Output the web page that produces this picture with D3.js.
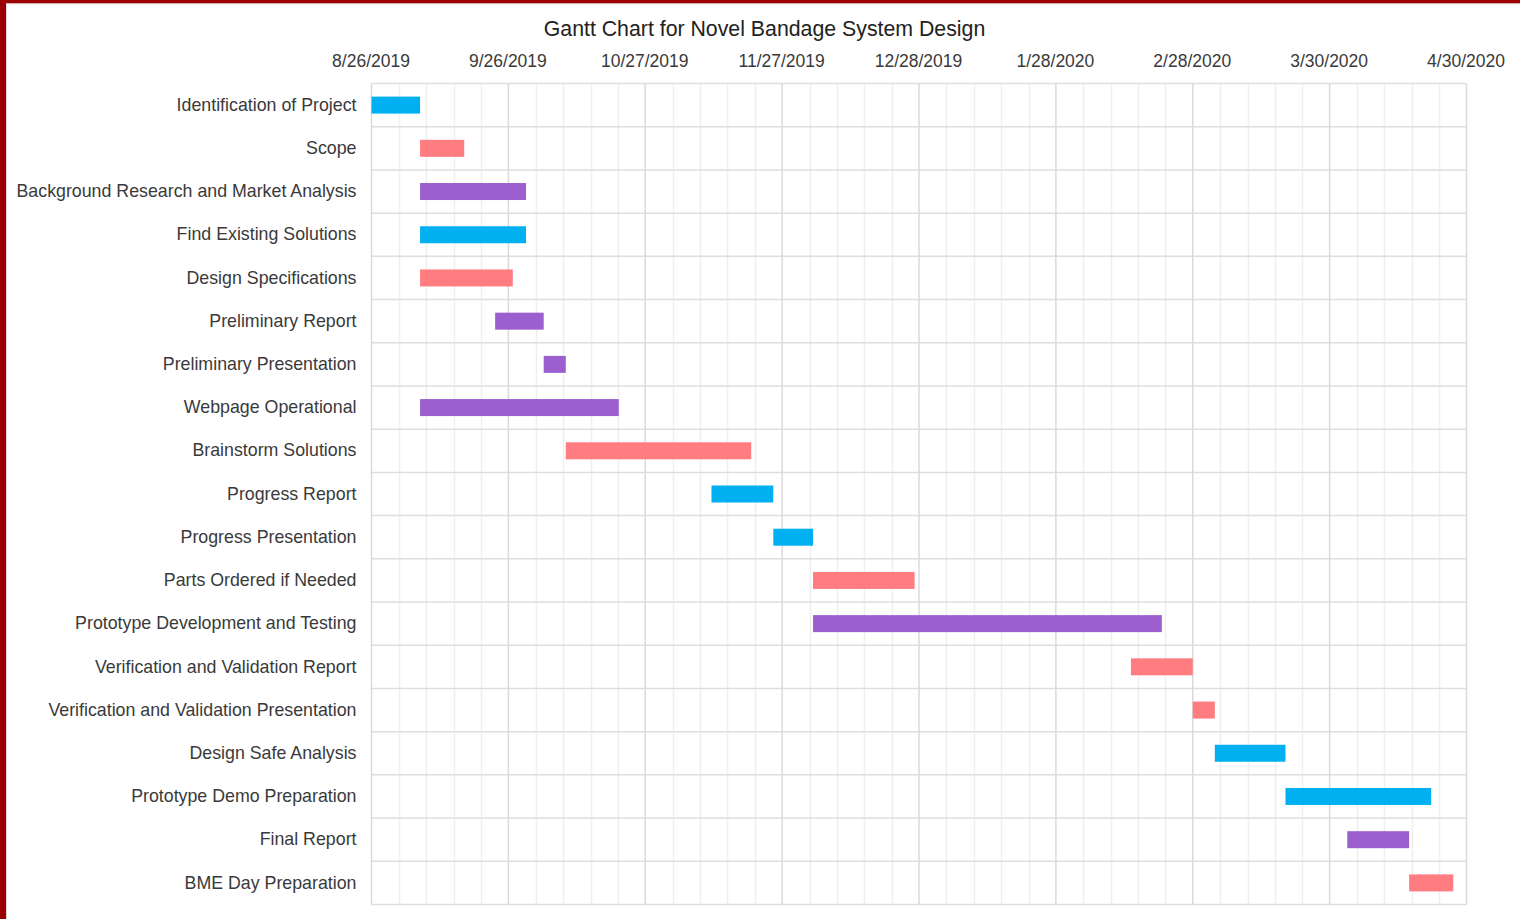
<!DOCTYPE html>
<html>
<head>
<meta charset="utf-8">
<script src="https://cdn.jsdelivr.net/npm/d3@7"></script>
<style>
  html, body { margin: 0; padding: 0; background: #fff; }
  svg { display: block; }
  text { font-family: "Liberation Sans", Arial, sans-serif; }
</style>
</head>
<body>
<svg id="chart" width="1520" height="919"></svg>
<script>
const title = "Gantt Chart for Novel Bandage System Design";

const tasks = [
  "Identification of Project",
  "Scope",
  "Background Research and Market Analysis",
  "Find Existing Solutions",
  "Design Specifications",
  "Preliminary Report",
  "Preliminary Presentation",
  "Webpage Operational",
  "Brainstorm Solutions",
  "Progress Report",
  "Progress Presentation",
  "Parts Ordered if Needed",
  "Prototype Development and Testing",
  "Verification and Validation Report",
  "Verification and Validation Presentation",
  "Design Safe Analysis",
  "Prototype Demo Preparation",
  "Final Report",
  "BME Day Preparation"
];

const startDates = [
  "8/26/2019", "9/6/2019", "9/6/2019", "9/6/2019", "9/6/2019",
  "9/23/2019", "10/4/2019", "9/6/2019", "10/9/2019", "11/11/2019",
  "11/25/2019", "12/4/2019", "12/4/2019", "2/14/2020", "2/28/2020",
  "3/4/2020", "3/20/2020", "4/3/2020", "4/17/2020"
];

const endDates = [
  "9/6/2019", "9/16/2019", "9/30/2019", "9/30/2019", "9/27/2019",
  "10/4/2019", "10/9/2019", "10/21/2019", "11/20/2019", "11/25/2019",
  "12/4/2019", "12/27/2019", "2/21/2020", "2/28/2020", "3/4/2020",
  "3/20/2020", "4/22/2020", "4/17/2020", "4/27/2020"
];

const taskGroup = [
  "blue", "red", "purple", "blue", "red",
  "purple", "purple", "purple", "red", "blue",
  "blue", "red", "purple", "red", "red",
  "blue", "blue", "purple", "red"
];

const tickLabels = [
  "8/26/2019", "9/26/2019", "10/27/2019", "11/27/2019", "12/28/2019",
  "1/28/2020", "2/28/2020", "3/30/2020", "4/30/2020"
];

const parse = d3.utcParse("%m/%d/%Y");
const tickDates = tickLabels.map(parse);

const color = d3.scaleOrdinal()
  .domain(["blue", "red", "purple"])
  .range(["#00b0f0", "#ff7c80", "#9c5fce"]);

const svg = d3.select("#chart");

// frame (dark red border of the screenshot)
svg.append("rect").attr("x", 0).attr("y", 0).attr("width", 1520).attr("height", 919).attr("fill", "#ffffff");
svg.append("rect").attr("x", 0).attr("y", 0).attr("width", 1520).attr("height", 3.5).attr("fill", "#9b0000");
svg.append("rect").attr("x", 0).attr("y", 0).attr("width", 6).attr("height", 919).attr("fill", "#9b0000");
svg.append("rect").attr("x", 6).attr("y", 3.5).attr("width", 1).attr("height", 915.5).attr("fill", "#d8d8d8");
svg.append("rect").attr("x", 6).attr("y", 3.5).attr("width", 1514).attr("height", 1).attr("fill", "#e4e4e4");

const pLeft = 371.5, pRight = 1466.5, pTop = 83.5, pBottom = 904.5;

const x = d3.scaleUtc()
  .domain([tickDates[0], tickDates[tickDates.length - 1]])
  .range([pLeft, pRight]);

const y = d3.scaleBand()
  .domain(tasks)
  .range([pTop, pBottom])
  .paddingInner(0.6)
  .paddingOuter(0.3);

const step = (pBottom - pTop) / tasks.length;

const g = svg.append("g");

// minor vertical gridlines (5 subdivisions per major interval)
const minor = [];
for (let i = 0; i < tickDates.length - 1; i++) {
  const a = +tickDates[i], b = +tickDates[i + 1];
  for (let j = 1; j < 5; j++) minor.push(new Date(a + (b - a) * j / 5));
}
g.selectAll(".minor").data(minor).enter().append("line")
  .attr("x1", d => Math.round(x(d)) + 0.5).attr("x2", d => Math.round(x(d)) + 0.5)
  .attr("y1", pTop).attr("y2", pBottom)
  .attr("stroke", "#efefef").attr("stroke-width", 1.5);

// horizontal row lines
const rowLines = d3.range(tasks.length + 1).map(i => pTop + i * step);
g.selectAll(".row").data(rowLines).enter().append("line")
  .attr("x1", pLeft).attr("x2", pRight)
  .attr("y1", d => d).attr("y2", d => d)
  .attr("stroke", "#dedede").attr("stroke-width", 1.5);

// major vertical gridlines
g.selectAll(".major").data(tickDates).enter().append("line")
  .attr("x1", d => x(d)).attr("x2", d => x(d))
  .attr("y1", pTop).attr("y2", pBottom)
  .attr("stroke", "#dadada").attr("stroke-width", 1.5);

// top axis labels
const xAxis = d3.axisTop(x)
  .tickValues(tickDates)
  .tickFormat((d, i) => tickLabels[i])
  .tickSize(0)
  .tickPadding(0);
const xa = svg.append("g").attr("transform", `translate(-1, ${pTop - 17})`).call(xAxis);
xa.select(".domain").remove();
xa.selectAll("text")
  .attr("font-family", "Liberation Sans, Arial, sans-serif")
  .attr("font-size", 17.5)
  .attr("fill", "#3a3a3a")
  .attr("dy", 0);

// left axis labels
const yAxis = d3.axisLeft(y).tickSize(0).tickPadding(15);
const ya = svg.append("g").attr("transform", `translate(${pLeft}, 0)`).call(yAxis);
ya.select(".domain").remove();
ya.selectAll("text")
  .attr("font-family", "Liberation Sans, Arial, sans-serif")
  .attr("font-size", 17.8)
  .attr("fill", "#3a3a3a");

// bars
const rows = tasks.map((t, i) => ({
  task: t,
  start: parse(startDates[i]),
  end: parse(endDates[i]),
  group: taskGroup[i]
}));

svg.append("g").selectAll("rect").data(rows).enter().append("rect")
  .attr("x", d => x(d.start))
  .attr("width", d => x(d.end) - x(d.start))
  .attr("y", d => y(d.task) + y.bandwidth() / 2 - 8.5)
  .attr("height", 17)
  .attr("fill", d => color(d.group));

// title
svg.append("text")
  .attr("x", 764.5)
  .attr("y", 35.5)
  .attr("text-anchor", "middle")
  .attr("font-size", 21.3)
  .attr("fill", "#222222")
  .text(title);
</script>
</body>
</html>
